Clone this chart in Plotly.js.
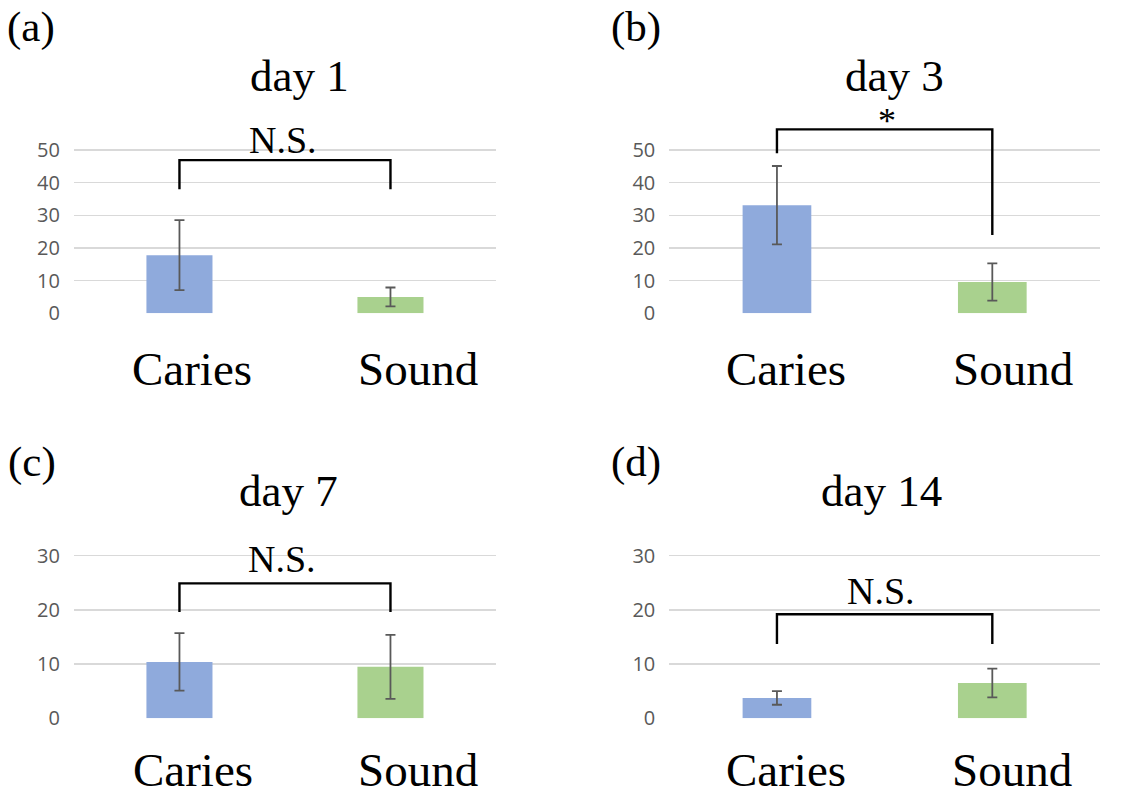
<!DOCTYPE html>
<html>
<head>
<meta charset="utf-8">
<script src="https://cdn.plot.ly/plotly-3.0.1.min.js"></script>
<style>html,body{margin:0;padding:0;background:#fff;}#chart{width:1129px;height:796px;}</style>
</head>
<body>
<div id="chart"></div>
<script>
// ---------- DATA ----------
const categories = ["Caries", "Sound"];
const panelLabels = ["(a)", "(b)", "(c)", "(d)"];
const panelTitles = ["day 1", "day 3", "day 7", "day 14"];
const day1Means = [17.8, 5.0];
const day1Errors = [10.7, 2.9];
const day3Means = [33.1, 9.6];
const day3Errors = [12.0, 5.7];
const day7Means = [10.4, 9.5];
const day7Errors = [5.3, 5.9];
const day14Means = [3.75, 6.5];
const day14Errors = [1.25, 2.65];
const significance = ["N.S.", "*", "N.S.", "N.S."];
const bracketTop = [46.9, 56.3, 24.9, 19.2];
const bracketLeftEnd = [38.0, 49.0, 19.6, 13.7];
const bracketRightEnd = [38.0, 24.0, 19.6, 13.7];
const sigLabelY = [53.1, 59.0, 29.3, 23.4];
const topTicks = [0, 10, 20, 30, 40, 50];
const bottomTicks = [0, 10, 20, 30];

// ---------- STYLE ----------
const barColors = ["#8faadc", "#a9d18e"];
const serif = "Liberation Serif, Times New Roman, serif";
const tickFont = {family: "Open Sans, Noto Sans, sans-serif", size: 20, color: "#595959"};
const panels = [
  {means: day1Means, errors: day1Errors, xa: "x", ya: "y", xd: [0.0655, 0.4393], yd: [0.6064, 0.8526], yr: [0, 60], ticks: topTicks, labelXY: [31, 27], titleXY: [299, 76], catShift: [12.5, 28], catY: 368.5, sigX: 0.492},
  {means: day3Means, errors: day3Errors, xa: "x2", ya: "y2", xd: [0.5928, 0.9743], yd: [0.6064, 0.8526], yr: [0, 60], ticks: topTicks, labelXY: [636, 27], titleXY: [894, 76], catShift: [9, 21], catY: 368.5, sigX: 0.51},
  {means: day7Means, errors: day7Errors, xa: "x3", ya: "y3", xd: [0.0655, 0.4393], yd: [0.0976, 0.3087], yr: [0, 31], ticks: bottomTicks, labelXY: [32, 462], titleXY: [288, 491], catShift: [13.5, 28], catY: 769.5, sigX: 0.484},
  {means: day14Means, errors: day14Errors, xa: "x4", ya: "y4", xd: [0.5928, 0.9743], yd: [0.0976, 0.3087], yr: [0, 31], ticks: bottomTicks, labelXY: [636, 462], titleXY: [881, 491], catShift: [9, 20], catY: 769.5, sigX: 0.484}
];
const W = 1129, H = 796;

const traces = [];
const annotations = [];
const layout = {
  width: W, height: H,
  margin: {l: 0, r: 0, t: 0, b: 0},
  paper_bgcolor: "#ffffff", plot_bgcolor: "#ffffff",
  showlegend: false,
  annotations: annotations
};

panels.forEach((p, i) => {
  const xs = categories.map((c, k) => k);
  traces.push({
    type: "bar", x: xs, y: p.means, xaxis: p.xa, yaxis: p.ya,
    width: i % 2 === 0 ? 0.313 : 0.319,
    marker: {color: barColors, line: {width: 0}},
    error_y: {type: "data", array: p.errors, visible: true, color: "#595959", thickness: 1.8, width: 5},
    hoverinfo: "skip"
  });
  traces.push({
    type: "scatter", mode: "lines",
    x: [0, 0, 1, 1],
    y: [bracketLeftEnd[i], bracketTop[i], bracketTop[i], bracketRightEnd[i]],
    xaxis: p.xa, yaxis: p.ya,
    line: {color: "#000000", width: 2.4},
    cliponaxis: false, hoverinfo: "skip"
  });
  const axN = i === 0 ? "" : String(i + 1);
  layout["xaxis" + axN] = {
    domain: p.xd, range: [-0.5, 1.5], anchor: p.ya,
    showticklabels: false, showgrid: false, zeroline: false, showline: false, ticks: "", fixedrange: true
  };
  layout["yaxis" + axN] = {
    domain: p.yd, range: p.yr, anchor: p.xa,
    tickvals: p.ticks, ticktext: p.ticks.map(String),
    showgrid: true, gridcolor: "#d9d9d9", gridwidth: 1.5,
    zeroline: false, showline: false, ticks: "",
    tickfont: tickFont, ticklabelstandoff: 13, fixedrange: true
  };
  annotations.push({
    xref: "paper", yref: "paper", x: p.labelXY[0] / W, y: 1 - p.labelXY[1] / H,
    xanchor: "center", yanchor: "middle", showarrow: false,
    text: panelLabels[i], font: {family: serif, size: 43, color: "#000"}
  });
  annotations.push({
    xref: "paper", yref: "paper", x: p.titleXY[0] / W, y: 1 - p.titleXY[1] / H,
    xanchor: "center", yanchor: "middle", showarrow: false,
    text: panelTitles[i], font: {family: serif, size: 45, color: "#000"}
  });
  categories.forEach((c, k) => {
    annotations.push({
      xref: p.xa, yref: "paper", x: k, y: 1 - p.catY / H, xshift: p.catShift[k],
      xanchor: "center", yanchor: "middle", showarrow: false,
      text: c, font: {family: serif, size: 47, color: "#000"}
    });
  });
  annotations.push({
    xref: p.xa, yref: p.ya, x: p.sigX, y: sigLabelY[i],
    xanchor: "center", yanchor: "middle", showarrow: false,
    text: significance[i], font: {family: serif, size: significance[i] === "*" ? 36 : 38, color: "#000"}
  });
});

Plotly.newPlot("chart", traces, layout, {displayModeBar: false, staticPlot: true});
</script>
</body>
</html>
